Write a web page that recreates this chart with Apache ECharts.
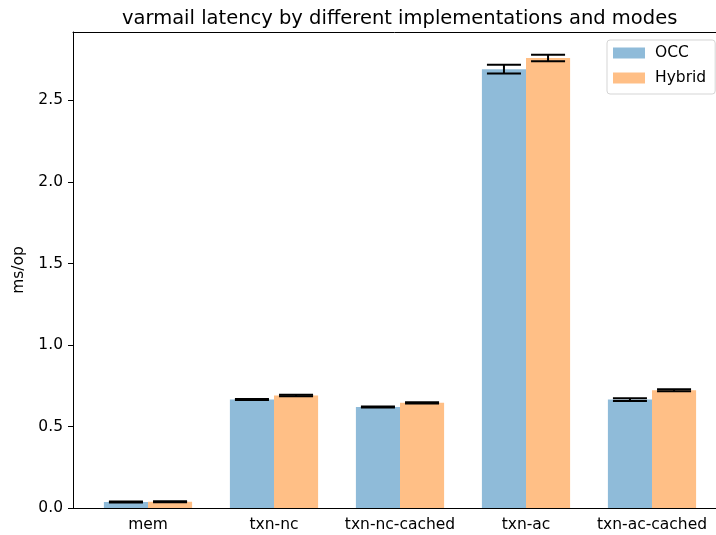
<!DOCTYPE html>
<html>
<head>
<meta charset="utf-8">
<script src="https://cdn.jsdelivr.net/npm/echarts@6/dist/echarts.min.js"></script>
<style>
  html, body { margin: 0; padding: 0; background: #fff; }
  #chart { width: 716px; height: 535px; }
</style>
</head>
<body>
<div id="chart"></div>
<script>
const categories = ['mem', 'txn-nc', 'txn-nc-cached', 'txn-ac', 'txn-ac-cached']
const occ = [0.037, 0.665, 0.620, 2.692, 0.665]
const hybrid = [0.038, 0.690, 0.645, 2.760, 0.722]
const occErr = [0.003, 0.003, 0.003, 0.027, 0.008]
const hybridErr = [0.003, 0.004, 0.004, 0.020, 0.006]
const yTicks = [0, 0.5, 1.0, 1.5, 2.0, 2.5]

const font = 'DejaVu Sans, sans-serif'
const chart = echarts.init(document.getElementById('chart'))

// error bar drawn at a fraction of the category width from the tick
const errorBars = (values, errs, shift) => ({
  type: 'custom',
  silent: true,
  z: 10,
  data: values.map((v, i) => [i, v, errs[i]]),
  encode: { x: 0, y: 1 },
  renderItem: function (params, api) {
    const i = api.value(0)
    const v = api.value(1)
    const e = api.value(2)
    const catW = api.size([1, 0])[0]
    const x = api.coord([i, v])[0] + shift * catW
    const top = api.coord([i, v + e])[1]
    const bot = api.coord([i, v - e])[1]
    const half = 0.135 * catW
    const style = { stroke: '#000', lineWidth: 2 }
    return {
      type: 'group',
      children: [
        { type: 'line', shape: { x1: x, y1: top, x2: x, y2: bot }, style },
        { type: 'line', shape: { x1: x - half, y1: top, x2: x + half, y2: top }, style },
        { type: 'line', shape: { x1: x - half, y1: bot, x2: x + half, y2: bot }, style }
      ]
    }
  }
})

const spine = (position) => ({
  gridIndex: 1,
  type: 'value',
  position,
  axisLine: { show: true, onZero: false, lineStyle: { color: '#000', width: 1 } },
  axisTick: { show: false },
  axisLabel: { show: false },
  splitLine: { show: false }
})

chart.setOption({
  animation: false,
  backgroundColor: '#fff',
  title: {
    text: 'varmail latency by different implementations and modes',
    left: 117,
    top: 4,
    textStyle: { fontFamily: font, fontSize: 19.5, fontWeight: 'normal', color: '#000' }
  },
  legend: {
    data: ['OCC', 'Hybrid'],
    orient: 'vertical',
    left: 607,
    top: 40,
    padding: [5, 9, 8, 6],
    itemWidth: 32,
    itemHeight: 11,
    itemGap: 9,
    icon: 'rect',
    borderColor: '#d5d5d5',
    borderWidth: 1,
    borderRadius: 3,
    backgroundColor: 'rgba(255,255,255,0.8)',
    textStyle: { fontFamily: font, fontSize: 15.5, lineHeight: 16, color: '#000', padding: [0, 0, 0, 5] }
  },
  grid: [
    { left: 85, top: 32, width: 630, height: 476 },
    { left: 73, top: 32, width: 653, height: 476 }
  ],
  xAxis: [
    {
      type: 'category',
      data: categories,
      axisLine: { lineStyle: { color: '#000', width: 1 } },
      axisTick: { alignWithLabel: true, length: 5, lineStyle: { color: '#000' } },
      axisLabel: { fontFamily: font, fontSize: 15.5, color: '#000', margin: 9, interval: 0 },
      splitLine: { show: false }
    },
    spine('top'),
    spine('bottom')
  ],
  yAxis: [
    {
      type: 'value',
      min: 0,
      max: 2.92,
      interval: 0.5,
      offset: 12,
      name: 'ms/op',
      nameLocation: 'middle',
      nameGap: 38,
      nameTextStyle: { fontFamily: font, fontSize: 15.5, color: '#000' },
      axisLine: { show: true, lineStyle: { color: '#000', width: 1 } },
      axisTick: { show: true, length: 5, lineStyle: { color: '#000' } },
      axisLabel: {
        fontFamily: font, fontSize: 15.5, color: '#000', margin: 10, showMaxLabel: false,
        formatter: v => (yTicks.includes(Math.round(v * 10) / 10) ? v.toFixed(1) : '')
      },
      splitLine: { show: false }
    },
    { gridIndex: 1, type: 'value', show: false, splitLine: { show: false } }
  ],
  series: [
    { name: 'OCC', type: 'bar', data: occ, barWidth: '35%', barGap: '0%', itemStyle: { color: '#8fbbd9' } },
    { name: 'Hybrid', type: 'bar', data: hybrid, barWidth: '35%', barGap: '0%', itemStyle: { color: '#ffbf86' } },
    errorBars(occ, occErr, -0.175),
    errorBars(hybrid, hybridErr, 0.175)
  ]
})
</script>
</body>
</html>
